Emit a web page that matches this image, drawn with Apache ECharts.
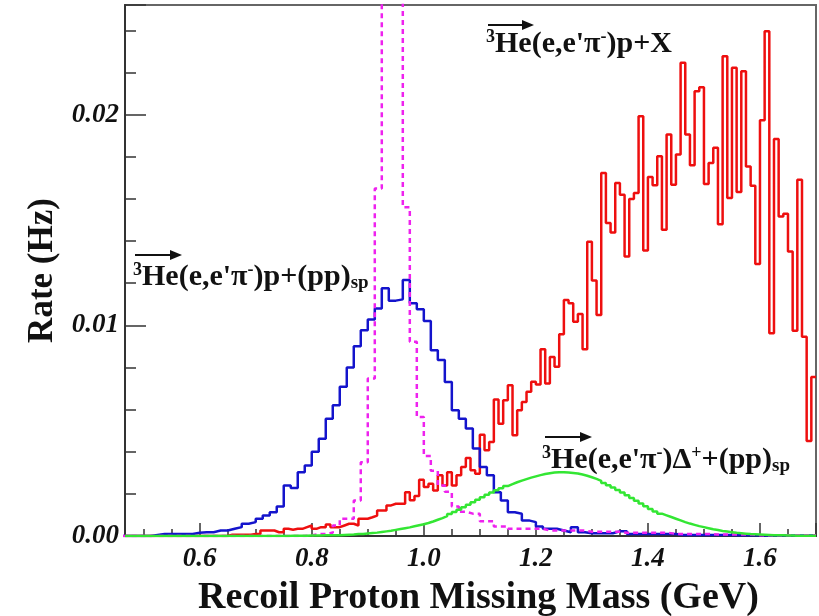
<!DOCTYPE html>
<html>
<head>
<meta charset="utf-8">
<script src="https://cdn.jsdelivr.net/npm/echarts@6/dist/echarts.min.js"></script>
<style>
html, body { margin: 0; padding: 0; background: #fff; }
#chart { width: 819px; height: 616px; }
</style>
</head>
<body>
<div id="chart"></div>
<script>
// fine binning (1/120 GeV): inclusive p+X and Delta+ spectra
const fineStart = 56 / 120;
const fineWidth = 1 / 120;
// coarse binning (0.0125 GeV): quasi-free p+(pp)sp and the dashed one
const coarseStart = 0.4625;
const coarseWidth = 0.0125;

// red, 3He(e,e'pi-)p+X
const inclusiveRate = [
  0, 0, 0, 0, 0, 0, 0, 0, 0, 0, 0, 0, 0, 0, 0, 0, 0, 0, 0, 0, 0, 0,
  0.00006, 0.00006, 0.00006, 0.00006, 0.00006, 0.0001, 0.0001, 0.00026, 0.00026, 0.00026,
  0.00018, 0.00018, 0.00034, 0.0003, 0.00034, 0.00034, 0.00042, 0.0005, 0.00034, 0.00042,
  0.00042, 0.00055, 0.00042, 0.00042, 0.0005, 0.00058, 0.00058, 0.0005, 0.00082, 0.00082,
  0.00089, 0.00097, 0.00121, 0.00121, 0.00145, 0.00153, 0.00153, 0.00153, 0.00208, 0.0017,
  0.0019, 0.00267, 0.00232, 0.00248, 0.00216, 0.00288, 0.0024, 0.00303, 0.0024, 0.00288,
  0.00327, 0.0037, 0.00312, 0.00296, 0.00481, 0.00407, 0.00446, 0.00648, 0.00533, 0.00644,
  0.00716, 0.00478, 0.00597, 0.00636, 0.00684, 0.00732, 0.00719, 0.00886, 0.00724, 0.0085,
  0.00803, 0.00958, 0.0112, 0.01104, 0.01017, 0.01054, 0.00886, 0.01397, 0.01212, 0.01049,
  0.01723, 0.01485, 0.0144, 0.01675, 0.0162, 0.01326, 0.01599, 0.01628, 0.01992, 0.01355,
  0.01704, 0.01664, 0.01802, 0.01453, 0.01905, 0.01667, 0.0181, 0.02246, 0.01905, 0.01759,
  0.02111, 0.0213, 0.0167, 0.0177, 0.01842, 0.0148, 0.02277, 0.01604, 0.02222, 0.01632,
  0.02206, 0.01754, 0.01662, 0.01291, 0.01973, 0.02396, 0.00962, 0.01884, 0.01516, 0.01529,
  0.0135, 0.00974, 0.01691, 0.00946, 0.00451, 0.00755
];

// green, 3He(e,e'pi-)Delta+ +(pp)sp
const deltaRate = [
  0, 0, 0, 0, 0, 0, 0, 0, 0, 0, 0, 0, 0, 0, 0, 0, 0, 0, 0, 0, 0, 0, 0, 0, 0, 0, 0, 0, 0, 0,
  0, 0, 0, 0, 0,
  0.00001, 0.00001, 0.00001, 0.00001, 0.00002, 0.00002, 0.00002, 0.00003, 0.00003, 0.00003,
  0.00004, 0.00005, 0.00006, 0.00007, 0.00009, 0.0001, 0.00012, 0.00014, 0.00016, 0.00019,
  0.00022, 0.00025, 0.00029, 0.00033, 0.00037, 0.00041, 0.00046, 0.00051, 0.00056, 0.00062,
  0.00069, 0.00077, 0.00085, 0.00094, 0.00104, 0.00114, 0.00125, 0.00136, 0.00148, 0.0016,
  0.00172, 0.00184, 0.00196, 0.00207, 0.00217, 0.00227, 0.00237, 0.00246, 0.00255, 0.00263,
  0.0027, 0.00277, 0.00283, 0.00289, 0.00294, 0.00298, 0.00301, 0.00303, 0.00303, 0.00301,
  0.00299, 0.00297, 0.00292, 0.00286, 0.00279, 0.00271, 0.00262, 0.00252, 0.00241, 0.0023,
  0.00218, 0.00206, 0.00193, 0.0018, 0.00167, 0.00154, 0.00141, 0.00128, 0.00116, 0.00106,
  0.00098, 0.0009, 0.00082, 0.00074, 0.00066, 0.00059, 0.00053, 0.00047, 0.00042, 0.00037,
  0.00032, 0.00028, 0.00024, 0.00021, 0.00018, 0.00015, 0.00013, 0.00011, 0.00009, 0.00008,
  0.00007, 0.00006, 0.00005, 0.00004, 0.00003, 0.00003, 0.00002, 0.00002, 0.00001, 0.00001,
  0.00001, 0.00001, 0.00001
];

// blue, 3He(e,e'pi-)p+(pp)sp
const quasiFreeRate = [
  0, 0, 0, 0, 0.00005, 0.0001, 0.0001, 0.0001, 0.0001, 0.0001,
  0.00015, 0.00018, 0.00018, 0.00026, 0.00026, 0.00034, 0.00042, 0.00058, 0.00066, 0.00082,
  0.00097, 0.00113, 0.0014, 0.0024, 0.00228, 0.00303, 0.00335, 0.004, 0.00462, 0.00557,
  0.0062, 0.00708, 0.008, 0.00901, 0.00977, 0.01028, 0.0108, 0.01176, 0.01117, 0.01123,
  0.01215, 0.01104, 0.01076, 0.0102, 0.00882, 0.00835, 0.00731, 0.00597, 0.00557, 0.0051,
  0.00415, 0.00327, 0.00288, 0.00208, 0.00169, 0.00113, 0.00106, 0.00074, 0.00066, 0.00045,
  0.00034, 0.00034, 0.00026, 0.00018, 0.00042, 0.00018, 0.00013, 0.00013, 0.00013, 0.00013,
  0.00022, 0.00022, 0.0001, 0.0001, 0.0001, 0.0001, 0.0001, 0.0001, 0.0001, 0.00005,
  0.00005, 0.00005, 0.00005, 0.00005, 0.00005, 0.00005, 0.00005, 0.00003, 0.00003, 0.00003,
  0.00003, 0.00002, 0.00002, 0.00002, 0.00002, 0.00002, 0.00002, 0.00002, 0.00002
];

// magenta dashed, narrow peak (the three central bins run off the top)
const peakRate = [
  0, 0, 0, 0, 0, 0, 0, 0, 0, 0, 0, 0, 0, 0, 0, 0, 0, 0, 0, 0, 0, 0, 0, 0, 0, 0,
  0.00003, 0.0001, 0.0001, 0.00015, 0.0005, 0.00082, 0.00082, 0.00169, 0.0035, 0.00748,
  0.01649, 0.045, 0.055, 0.045, 0.0156, 0.00922, 0.00565, 0.0038, 0.0031, 0.0024,
  0.0021, 0.0014, 0.00115, 0.00106, 0.00106, 0.0007, 0.0007, 0.00045, 0.00045,
  0.00034, 0.00034, 0.00034, 0.00034, 0.00034,
  0.00026, 0.00026, 0.00026, 0.00026, 0.00026, 0.00026,
  0.0002, 0.0002, 0.0002, 0.0002, 0.0002,
  0.00015, 0.00015, 0.00015, 0.00015, 0.00015, 0.00015, 0.00015,
  0.0001, 0.0001, 0.0001, 0.0001, 0.0001, 0.0001,
  0.00007, 0.00007, 0.00007, 0.00007, 0.00007, 0.00007,
  0.00004, 0.00004, 0.00004, 0.00004, 0.00004, 0.00004, 0.00004, 0.00004, 0.00004
];

const xMin = fineStart, xMax = 1.7;
const yMax = 0.0252;

// turn bin contents into a histogram outline (two points per bin)
function outline(start, width, values) {
  const pts = [];
  values.forEach((v, i) => {
    const lo = start + i * width;
    pts.push([lo, v], [lo + width, v]);
  });
  return pts;
}

const serif = '"Liberation Serif", "Times New Roman", serif';

function histSeries(name, start, width, values, color, dashed, z) {
  return {
    name: name,
    type: 'line',
    data: outline(start, width, values),
    symbol: 'none',
    clip: true,
    z: z,
    lineStyle: { color: color, width: 2.5, type: dashed ? [5, 4] : 'solid' },
    animation: false
  };
}

const rich = {
  b: { fontFamily: serif, fontWeight: 'bold', fontSize: 30, lineHeight: 32, fill: '#111' },
  sup: { fontFamily: serif, fontWeight: 'bold', fontSize: 18, lineHeight: 17, verticalAlign: 'top', fill: '#111' },
  sub: { fontFamily: serif, fontWeight: 'bold', fontSize: 19, lineHeight: 6, verticalAlign: 'bottom', fill: '#111' }
};

function label(x, y, text, arrowFrom, arrowTo, arrowY) {
  return [
    { type: 'text', left: x, top: y, z: 100,
      style: { text: text, rich: rich, textVerticalAlign: 'top' } },
    { type: 'line', z: 100,
      shape: { x1: arrowFrom, y1: arrowY, x2: arrowTo - 4, y2: arrowY },
      style: { stroke: '#111', lineWidth: 2 } },
    { type: 'polygon', z: 100,
      shape: { points: [[arrowTo - 11, arrowY - 5], [arrowTo + 1, arrowY], [arrowTo - 11, arrowY + 5]] },
      style: { fill: '#111' } }
  ];
}

const chart = echarts.init(document.getElementById('chart'));
chart.setOption({
  animation: false,
  backgroundColor: '#fff',
  grid: {
    left: 125, right: 3, top: 5, bottom: 80,
    outerBoundsMode: 'none', containLabel: false,
    show: true, borderColor: '#666', borderWidth: 2
  },
  xAxis: {
    type: 'value', min: xMin, max: xMax, splitNumber: 5,
    name: 'Recoil Proton Missing Mass (GeV)',
    nameLocation: 'middle', nameGap: 43,
    nameTextStyle: { fontFamily: serif, fontWeight: 'bold', fontSize: 38, color: '#111', padding: [0, 0, 0, 16] },
    axisLine: { lineStyle: { color: '#333', width: 2 } },
    axisTick: { inside: true, length: 13, lineStyle: { color: '#333', width: 1.5 } },
    minorTick: { show: true, splitNumber: 4, length: 7, lineStyle: { color: '#333', width: 1.5 } },
    splitLine: { show: false },
    axisLabel: {
      showMinLabel: false, showMaxLabel: false, margin: 10,
      fontFamily: serif, fontWeight: 'bold', fontStyle: 'italic', fontSize: 27, color: '#111',
      formatter: v => v.toFixed(1)
    }
  },
  yAxis: {
    type: 'value', min: 0, max: yMax, interval: 0.01,
    name: 'Rate (Hz)',
    nameLocation: 'middle', nameGap: 64,
    nameTextStyle: { fontFamily: serif, fontWeight: 'bold', fontSize: 35, color: '#111' },
    axisLine: { lineStyle: { color: '#333', width: 2 } },
    axisTick: { inside: true, length: 21, lineStyle: { color: '#333', width: 1.5 } },
    minorTick: { show: true, splitNumber: 5, length: 11, lineStyle: { color: '#333', width: 1.5 } },
    splitLine: { show: false },
    axisLabel: {
      showMaxLabel: false, margin: 6,
      fontFamily: serif, fontWeight: 'bold', fontStyle: 'italic', fontSize: 27, color: '#111',
      formatter: v => v.toFixed(2)
    }
  },
  series: [
    histSeries('p+X', fineStart, fineWidth, inclusiveRate, '#ee0f0f', false, 2),
    histSeries('p+(pp)sp', coarseStart, coarseWidth, quasiFreeRate, '#1414cc', false, 3),
    histSeries('peak', coarseStart, coarseWidth, peakRate, '#ee22ee', true, 4),
    histSeries('Delta', fineStart, fineWidth, deltaRate, '#33e633', false, 5)
  ],
  graphic: [
    ...label(486, 28, "{sup|3}{b|He(e,e'π}{sup|-}{b|)p+X}", 488, 533, 25),
    ...label(133, 261, "{sup|3}{b|He(e,e'π}{sup|-}{b|)p+(pp)}{sub|sp}", 135, 181, 255),
    ...label(542, 444, "{sup|3}{b|He(e,e'π}{sup|-}{b|)Δ}{sup|+}{b|+(pp)}{sub|sp}", 545, 591, 437)
  ]
});
</script>
</body>
</html>
